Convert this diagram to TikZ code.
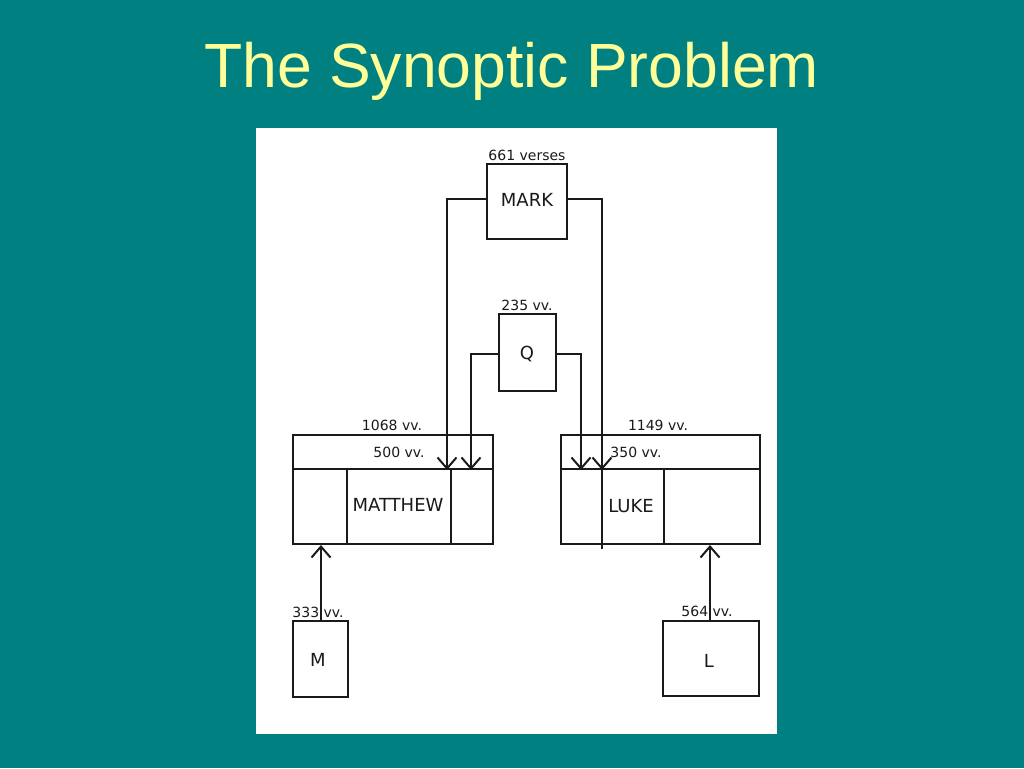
\documentclass[tikz,border=0pt]{standalone}
\usepackage{fontspec}
\setmainfont{Liberation Sans}
\newfontfamily\diagfont{DejaVu Sans}
\usetikzlibrary{arrows.meta}
\definecolor{bgteal}{HTML}{008080}
\definecolor{titleyellow}{HTML}{FFFF99}
\definecolor{ink}{HTML}{1A1A1A}
\tikzset{
  box/.style={draw=ink, line width=2pt, inner sep=0pt, rectangle},
  lbl/.style={text=ink, inner sep=0pt, font=\diagfont\fontsize{14}{16}\selectfont},
  gname/.style={text=ink, inner sep=0pt, font=\diagfont\fontsize{18}{20}\selectfont},
  conn/.style={draw=ink, line width=2pt},
  arr/.style={conn, -{Straight Barb[length=11pt,width=19pt,line width=2pt]}}
}
\begin{document}
\begin{tikzpicture}[x=1pt,y=-1pt]
\useasboundingbox (0,0) rectangle (1024,768);
\fill[bgteal] (0,0) rectangle (1024,768);
\node[text=titleyellow, font=\fontsize{62.5}{70}\selectfont, inner sep=0pt, anchor=base] (title) at (511.5,87) {The Synoptic Problem};
\fill[white] (256,128) rectangle (777,734);

% boxes
\node[box, minimum width=80pt, minimum height=75pt] (mark) at (527,201.5) {};
\node[box, minimum width=57pt, minimum height=77pt] (q) at (527.5,352.5) {};
\node[box, minimum width=200pt, minimum height=34pt] (mhead) at (393,452) {};
\node[box, minimum width=200pt, minimum height=75pt] (mbody) at (393,506.5) {};
\node[box, minimum width=199pt, minimum height=34pt] (lhead) at (660.5,452) {};
\node[box, minimum width=199pt, minimum height=75pt] (lbody) at (660.5,506.5) {};
\node[box, minimum width=55pt, minimum height=76pt] (mbox) at (320.5,659) {};
\node[box, minimum width=96pt, minimum height=75pt] (lbox) at (711,658.5) {};

% x positions
\coordinate (xa) at (447,0);
\coordinate (xb) at (471,0);
\coordinate (xc) at (581,0);
\coordinate (xd) at (602,0);
\coordinate (xm) at (321,0);
\coordinate (xl) at (710,0);
\coordinate (d1) at (347,0);
\coordinate (d2) at (451,0);
\coordinate (d3) at (664,0);

% dividers
\draw[conn] (mhead.south -| d1) -- (mbody.south -| d1);
\draw[conn] (mhead.south -| d2) -- (mbody.south -| d2);
\draw[conn] (lhead.south -| d3) -- (lbody.south -| d3);

% connectors
\draw[arr] ([yshift=3pt]mark.west) -| (mhead.south -| xa);
\draw[arr] ([yshift=-1.5pt]q.west) -| (mhead.south -| xb);
\draw[arr] ([yshift=-1.5pt]q.east) -| (lhead.south -| xc);
\draw[arr] ([yshift=3pt]mark.east) -| (lhead.south -| xd);
\draw[conn] (lhead.south -| xd) -- ([yshift=-4pt]lbody.south -| xd);
\draw[arr] (mbox.north -| xm) -- (mbody.south -| xm);
\draw[arr] (lbox.north -| xl) -- (lbody.south -| xl);

% names
\node[gname] (tmark) at (527,200) {MARK};
\node[gname] (tq) at (527,354) {Q};
\node[gname] (tmatt) at (398,505) {MATTHEW};
\node[gname] (tluke) at (631,506) {LUKE};
\node[gname] (tm) at (318,660) {M};
\node[gname] (tl) at (709,661) {L};

% verse counts
\node[lbl] (vmark) at (527,155) {661 verses};
\node[lbl] (vq) at (527,305) {235 vv.};
\node[lbl] (vmatt) at (392,425) {1068 vv.};
\node[lbl] (vmatt2) at (399,452) {500 vv.};
\node[lbl] (vluke) at (658,425) {1149 vv.};
\node[lbl] (vluke2) at (636,452) {350 vv.};
\node[lbl] (vm) at (318,612) {333 vv.};
\node[lbl] (vl) at (707,611) {564 vv.};
\end{tikzpicture}
\end{document}
